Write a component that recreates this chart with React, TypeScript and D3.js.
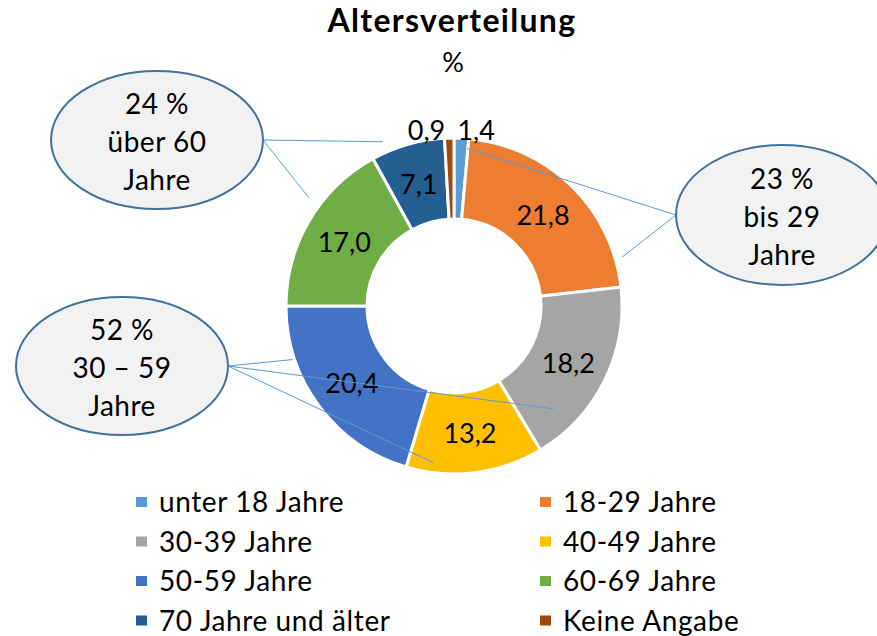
import React from "react";
import * as d3 from "d3";

const categories = [
  "unter 18 Jahre",
  "18-29 Jahre",
  "30-39 Jahre",
  "40-49 Jahre",
  "50-59 Jahre",
  "60-69 Jahre",
  "70 Jahre und älter",
  "Keine Angabe",
];
const values = [1.4, 21.8, 18.2, 13.2, 20.4, 17.0, 7.1, 0.9];
const colors = ["#5B9BD5", "#ED7D31", "#A5A5A5", "#FFC000", "#4472C4", "#70AD47", "#255E91", "#9E480E"];

const title = "Altersverteilung";
const subtitle = "%";

// callout texts and which slices they point to
const calloutLines = [
  ["24 %", "über 60", "Jahre"],
  ["23 %", "bis 29", "Jahre"],
  ["52 %", "30 – 59", "Jahre"],
];
const calloutTargets = [
  [6, 5],
  [0, 1],
  [4, 2, 3],
];

// layout (not data)
const W = 877;
const H = 636;
const CX = 454;
const CY = 306;
const R_OUT = 168;
const R_IN = 87;
const FONT = "Lato, Carlito, Calibri, 'Noto Sans', sans-serif";
const FS = 27;
const FS_TXT = 28;

const calloutLayout = [
  { cx: 157, cy: 140, rx: 106, ry: 69, side: "right" },
  { cx: 782, cy: 215, rx: 106, ry: 70, side: "left" },
  { cx: 122, cy: 366, rx: 106, ry: 69, side: "right" },
];
// where within each target slice the leader line ends: [fraction of slice, radius]
const leaderEnds: Record<number, [number, number]> = {
  6: [0.21, 179],
  5: [0.6, 181],
  0: [0.93, 158],
  1: [0.876, 175],
  4: [0.75, 170],
  2: [0.8, 143],
  3: [0.81, 158],
};

export default function App() {
  const pie = d3
    .pie<number>()
    .sort(null)
    .startAngle(0)
    .endAngle(2 * Math.PI)
    .value((d) => d);
  const arcs = pie(values);
  const arc = d3.arc<d3.PieArcDatum<number>>().innerRadius(R_IN).outerRadius(R_OUT);
  const labelArc = d3
    .arc<d3.PieArcDatum<number>>()
    .innerRadius((R_IN + R_OUT) / 2)
    .outerRadius((R_IN + R_OUT) / 2);

  const fmt = (v: number) => v.toFixed(1).replace(".", ",");
  const polar = (a: number, r: number): [number, number] => [CX + r * Math.sin(a), CY - r * Math.cos(a)];

  const legendRowY = d3.scaleLinear().domain([0, 1]).range([501, 540.5]);
  const legendColX = [136, 540];

  return (
    <div style={{ position: "absolute", left: 0, top: 0 }}>
      <svg width={W} height={H} style={{ display: "block", background: "#fff" }} fontFamily={FONT}>
        <text x={452} y={32} textAnchor="middle" fontWeight="bold" fontSize={32} letterSpacing={1.3} fill="#000">
          {title}
        </text>
        <text x={453} y={72} textAnchor="middle" fontSize={FS} fill="#000">
          {subtitle}
        </text>

        <g>
          {arcs.map((a, i) => (
            <path
              key={i}
              d={arc(a) || ""}
              transform={`translate(${CX},${CY})`}
              fill={colors[i]}
              stroke="#fff"
              strokeWidth={3}
            />
          ))}
        </g>

        <g fontSize={FS} fill="#000">
          {arcs.map((a, i) => {
            if (a.data < 3) {
              const mid = (a.startAngle + a.endAngle) / 2;
              const [x, y] = polar(mid, R_OUT);
              const right = Math.sin(mid) >= 0;
              return (
                <text key={i} x={x - 4} y={y + 2} textAnchor={right ? "start" : "end"}>
                  {fmt(a.data)}
                </text>
              );
            }
            const [x, y] = labelArc.centroid(a);
            return (
              <text key={i} x={CX + x} y={CY + y} textAnchor="middle" dominantBaseline="central">
                {fmt(a.data)}
              </text>
            );
          })}
        </g>

        <g stroke="#5B9BD5" strokeWidth={1}>
          {calloutTargets.map((targets, ci) => {
            const L = calloutLayout[ci];
            const ax = L.side === "right" ? L.cx + L.rx : L.cx - L.rx;
            const ay = L.cy;
            return targets.map((ti) => {
              const a = arcs[ti];
              const [f, r] = leaderEnds[ti];
              const ang = a.startAngle + f * (a.endAngle - a.startAngle);
              const [x, y] = polar(ang, r);
              return <line key={`${ci}-${ti}`} x1={ax} y1={ay} x2={x} y2={y} />;
            });
          })}
        </g>

        <g>
          {calloutLines.map((lines, ci) => {
            const L = calloutLayout[ci];
            return (
              <g key={ci}>
                <ellipse cx={L.cx} cy={L.cy} rx={L.rx} ry={L.ry} fill="#F2F2F2" stroke="#41719C" strokeWidth={2} />
                {lines.map((t, li) => (
                  <text
                    key={li}
                    x={L.cx}
                    y={L.cy - 26 + li * 38}
                    textAnchor="middle"
                    fontSize={FS_TXT}
                    letterSpacing={0.5}
                    fill="#000"
                  >
                    {t}
                  </text>
                ))}
              </g>
            );
          })}
        </g>

        <g fontSize={FS_TXT} fill="#000">
          {categories.map((c, i) => {
            const col = i % 2;
            const row = Math.floor(i / 2);
            const y = legendRowY(row);
            const x = legendColX[col];
            return (
              <g key={c}>
                <rect x={x} y={y - 4} width={11} height={10} fill={colors[i]} />
                <text x={x + 23} y={y} dominantBaseline="central" letterSpacing={0.6}>
                  {c}
                </text>
              </g>
            );
          })}
        </g>
      </svg>
    </div>
  );
}
